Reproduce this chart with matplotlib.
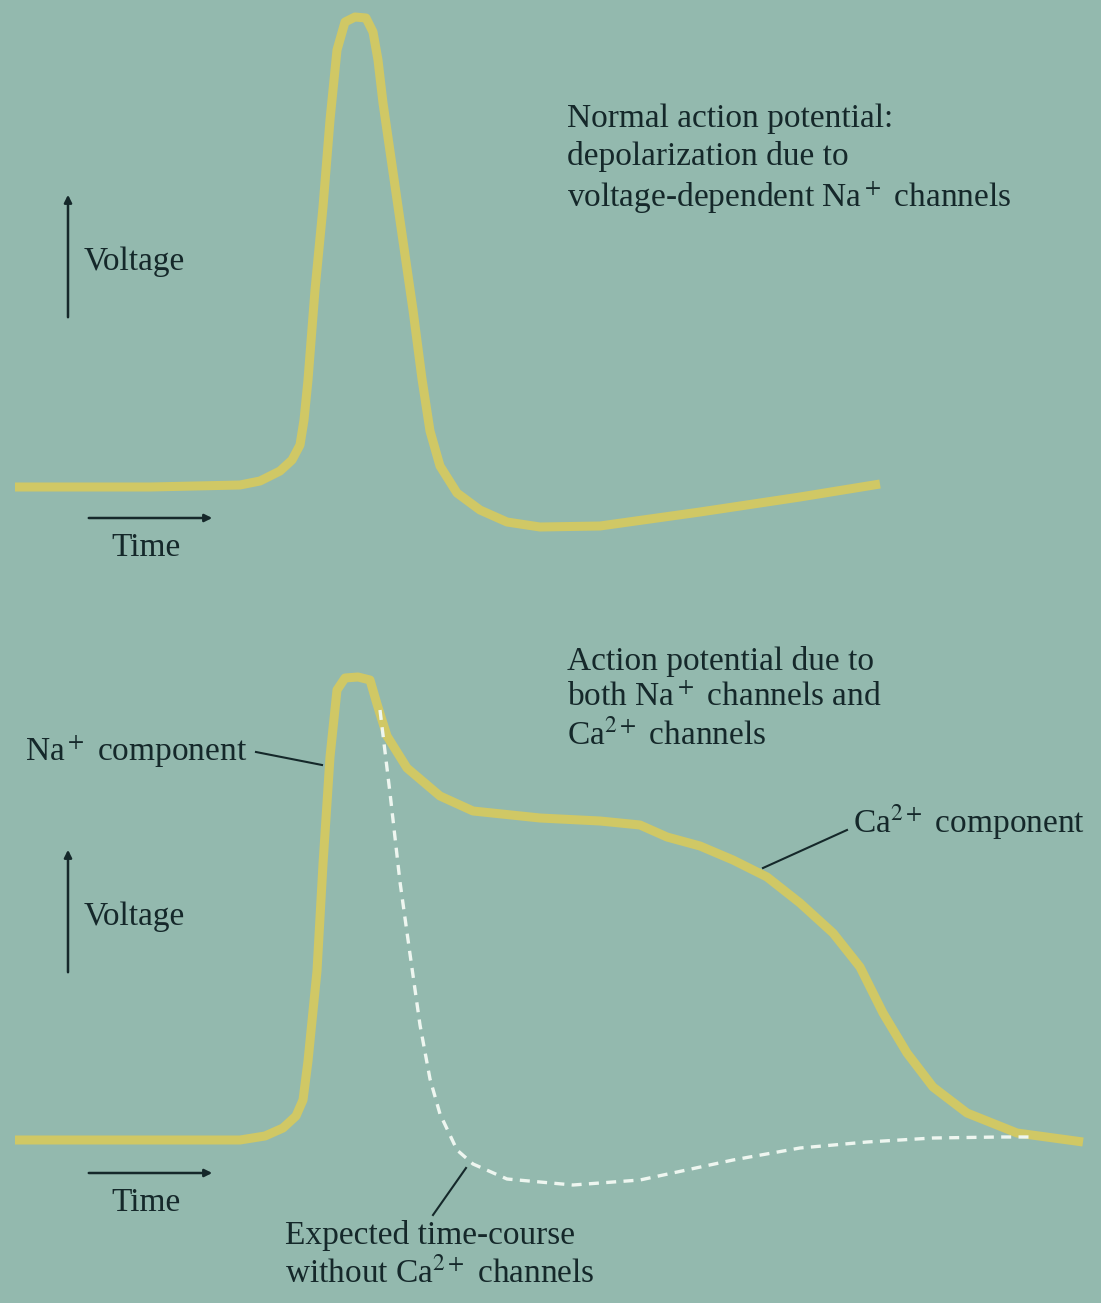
import numpy as np
import matplotlib.pyplot as plt

# curves (x = time, y = voltage, both in picture units, y grows downward)
top_t = [15, 150, 240, 260, 280, 292, 300, 304, 308, 315, 323, 330, 337, 345, 355, 366, 373, 378, 383, 393, 403, 413, 422, 430, 440, 457, 480, 507, 540, 600, 700, 800, 880]
top_v = [487, 487, 485, 481, 471, 460, 445, 420, 380, 290, 207, 120, 50, 22, 17, 18, 32, 60, 103, 172, 241, 310, 379, 431, 466, 493, 510, 522, 527, 526, 512, 497, 484]

bot_t = [15, 150, 240, 265, 283, 296, 303, 308, 317, 323, 330, 337, 345, 358, 370, 377, 387, 407, 440, 473, 540, 600, 640, 667, 700, 733, 767, 800, 833, 860, 883, 907, 933, 967, 1017, 1083]
bot_v = [1140, 1140, 1140, 1136, 1128, 1116, 1100, 1061, 971, 864, 757, 690, 678, 677, 680, 704, 736, 768, 796, 811, 818, 821, 825, 837, 846, 860, 877, 903, 933, 967, 1013, 1053, 1087, 1113, 1133, 1142]

noca_t = [380, 390, 400, 410, 420, 430, 440, 457, 473, 507, 573, 640, 733, 800, 867, 933, 1000, 1033]
noca_v = [710, 793, 882, 954, 1025, 1079, 1114, 1150, 1164, 1179, 1185, 1180, 1160, 1148, 1142, 1138, 1137, 1137]

top_label = "Normal action potential:\ndepolarization due to\nvoltage-dependent Na$^+$ channels"
bot_label = "Action potential due to\nboth Na$^+$ channels and\nCa$^{2+}$ channels"

bg = '#93b9ae'
ink = '#15282a'
yellow = '#d0c865'

plt.rcParams['font.family'] = ['Liberation Serif', 'DejaVu Serif']
plt.rcParams['mathtext.fontset'] = 'stix'

fig = plt.figure(figsize=(11.01, 13.03), dpi=100, facecolor=bg)
ax = fig.add_axes([0, 0, 1, 1])
ax.set_facecolor(bg)
ax.set_xlim(0, 1101)
ax.set_ylim(1303, 0)
ax.axis('off')

ax.plot(top_t, top_v, color=yellow, lw=6.5, solid_capstyle='butt', solid_joinstyle='round')
ax.plot(bot_t, bot_v, color=yellow, lw=6.5, solid_capstyle='butt', solid_joinstyle='round')
ax.plot(noca_t, noca_v, color='#eef6f0', lw=2.4, ls=(0, (3, 2.2)))

fs = 24
ax.text(567, 104, top_label, fontsize=fs, color=ink, va='top', linespacing=1.27)
ax.text(567, 646, bot_label, fontsize=fs, color=ink, va='top', linespacing=1.22)

for y0 in (0, 655):
    ax.annotate('', xy=(68, 192 + y0), xytext=(68, 320 + y0),
                arrowprops=dict(arrowstyle='-|>', color=ink, lw=1.8, mutation_scale=11))
    ax.text(84, 262 + y0, 'Voltage', fontsize=fs, color=ink, va='center')
    ax.annotate('', xy=(215, 518 + y0), xytext=(86, 518 + y0),
                arrowprops=dict(arrowstyle='-|>', color=ink, lw=1.8, mutation_scale=11))
    ax.text(146, 548 + y0, 'Time', fontsize=fs, color=ink, va='center', ha='center')

ax.text(25, 752, 'Na$^+$ component', fontsize=fs, color=ink, va='center')
ax.plot([256, 322], [752, 765], color=ink, lw=1.5)

ax.text(853, 822, 'Ca$^{2+}$ component', fontsize=fs, color=ink, va='center')
ax.plot([847, 763], [830, 868], color=ink, lw=1.5)

ax.text(285, 1220, 'Expected time-course\nwithout Ca$^{2+}$ channels', fontsize=fs, color=ink, va='top', linespacing=1.22)
ax.plot([433, 466], [1215, 1168], color=ink, lw=1.5)

fig.savefig('out.png', dpi=100, facecolor=bg)
